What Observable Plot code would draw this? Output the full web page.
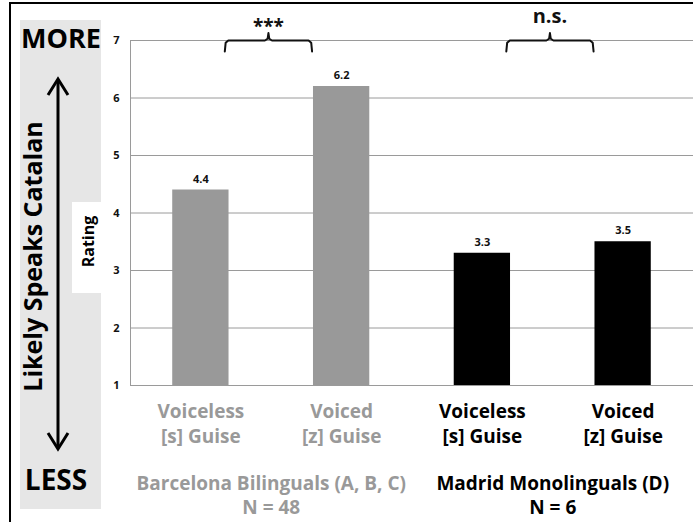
<!DOCTYPE html>
<html>
<head>
<meta charset="utf-8">
<script src="https://cdn.jsdelivr.net/npm/d3@7"></script>
<script src="https://cdn.jsdelivr.net/npm/@observablehq/plot@0.6"></script>
<style>
  html, body { margin: 0; padding: 0; background: white; }
</style>
</head>
<body>
<div id="chart"></div>
<script>
// ---- data ----
const categories = ["Voiceless\n[s] Guise", "Voiced\n[z] Guise", "Voiceless\n[s] Guise", "Voiced\n[z] Guise"];
const positions = [1, 2, 3, 4];
const ratings = [4.4, 6.2, 3.3, 3.5];
const groups = ["Barcelona", "Barcelona", "Madrid", "Madrid"];
const groupNames = ["Barcelona", "Madrid"];
const groupLabels = ["Barcelona Bilinguals (A, B, C)\nN = 48", "Madrid Monolinguals (D)\nN = 6"];
const groupCenters = [1.5, 3.5];
const sigLabels = ["***", "n.s."];
const yTicks = [1, 2, 3, 4, 5, 6, 7];

const FONT = "'Open Sans', sans-serif";
const rows = ratings.map((v, i) => ({pos: positions[i], rating: v, label: categories[i], group: groups[i]}));
const groupRows = groupNames.map((g, i) => ({group: g, center: groupCenters[i], label: groupLabels[i]}));
const sigRows = groupNames.map((g, i) => ({center: groupCenters[i], text: sigLabels[i]}));

// bracket shapes in data coordinates, spanning between the two bars of each group
const bracket = [];
groupCenters.forEach((c, gi) => {
  const s = c - 0.33, e = c + 0.29, m = c - 0.02;
  const pts = [[s, 6.81], [s + 0.006, 6.96], [s + 0.025, 7.0], [m - 0.025, 7.0], [m - 0.006, 7.03], [m, 7.13],
               [m + 0.006, 7.03], [m + 0.025, 7.0], [e - 0.025, 7.0], [e - 0.006, 6.96], [e, 6.81]];
  pts.forEach(([x, y]) => bracket.push({x, y, g: gi}));
});

const plot = Plot.plot({
  width: 693,
  height: 522,
  marginLeft: 130,
  marginRight: 0,
  marginTop: 40,
  marginBottom: 137,
  x: {domain: [0.5, 4.5], axis: null},
  y: {domain: [1, 7]},
  color: {domain: groupNames, range: ["#999999", "#000000"]},
  style: {fontFamily: FONT, background: "white", overflow: "visible"},
  marks: [
    Plot.gridY(yTicks, {stroke: "#9a9a9a", strokeOpacity: 1}),
    Plot.ruleX([0.5], {y1: 1, y2: 7, stroke: "#9a9a9a"}),
    Plot.axisY(yTicks, {tickSize: 0, tickPadding: 11, tickFormat: "d", fontWeight: "bold", fontSize: 11, fill: "#111"}),
    Plot.rectY(rows, {x1: d => d.pos - 0.2, x2: d => d.pos + 0.2, y1: () => 1, y2: "rating", fill: "group"}),
    Plot.text(rows, {x: "pos", y: "rating", text: d => d.rating.toFixed(1), dy: -11, fontWeight: "bold", fontSize: 11, fill: "#111"}),
    Plot.text(rows, {x: "pos", y: () => 1, text: "label", fill: "group", dy: 15, lineAnchor: "top", fontSize: 19, fontWeight: "bold", lineHeight: 1.32}),
    Plot.text(groupRows, {x: "center", y: () => 1, text: "label", fill: "group", dy: 88, lineAnchor: "top", fontSize: 19, fontWeight: "bold", lineHeight: 1.24}),
    Plot.line(bracket, {x: "x", y: "y", z: "g", stroke: "#111", strokeWidth: 2, strokeLinejoin: "round"}),
    Plot.text(sigRows.slice(0, 1), {x: d => d.center - 0.02, y: () => 7, text: "text", fontSize: 19, dy: -14, fontWeight: "bold", fill: "#111"}),
    Plot.text(sigRows.slice(1), {x: d => d.center - 0.02, y: () => 7, text: "text", fontSize: 20, dy: -24, fontWeight: "bold", fill: "#111"})
  ]
});

// left annotation panel
const svg = d3.select(plot);
const g = svg.append("g").attr("font-family", FONT).attr("font-weight", "bold");
g.append("rect").attr("x", 20).attr("y", 20).attr("width", 81).attr("height", 489).attr("fill", "#e6e6e6");
g.append("rect").attr("x", 72).attr("y", 202).attr("width", 35).attr("height", 91).attr("fill", "white");
g.append("text").attr("transform", "translate(94,241.5) rotate(-90)").attr("text-anchor", "middle")
  .attr("font-size", 16).text("Rating");
g.append("text").attr("x", 61).attr("y", 48).attr("text-anchor", "middle").attr("font-size", 27).text("MORE");
g.append("text").attr("x", 56).attr("y", 490).attr("text-anchor", "middle").attr("font-size", 28).text("LESS");
g.append("text").attr("transform", "translate(42,256.5) rotate(-90)").attr("text-anchor", "middle")
  .attr("font-size", 25).text("Likely Speaks Catalan");
g.append("line").attr("x1", 58).attr("x2", 58).attr("y1", 82).attr("y2", 446).attr("stroke", "black").attr("stroke-width", 3);
g.append("path").attr("d", "M48,95 L58,79 L68,95").attr("fill", "none").attr("stroke", "black").attr("stroke-width", 3);
g.append("path").attr("d", "M48,433 L58,449 L68,433").attr("fill", "none").attr("stroke", "black").attr("stroke-width", 3);
// outer frame
svg.append("path").attr("d", "M10,522 L10,3 L693,3").attr("fill", "none").attr("stroke", "black").attr("stroke-width", 2);

document.getElementById("chart").appendChild(plot);
</script>
</body>
</html>
